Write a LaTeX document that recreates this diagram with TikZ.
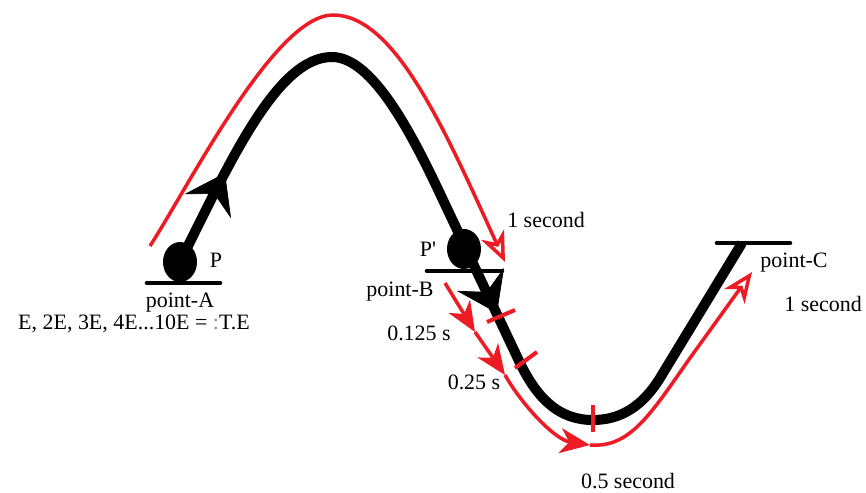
\documentclass[tikz,border=0pt]{standalone}
\usepackage{fontspec}
\setmainfont{Liberation Serif}
\usetikzlibrary{arrows.meta, shapes.geometric}
\definecolor{pathred}{RGB}{237,28,36}

\begin{document}
\begin{tikzpicture}[
  x=0.02cm, y=-0.02cm,
  font=\fontsize{12.5}{14}\selectfont,
  track/.style={line width=5.7pt, black},
  motion/.style={line width=2pt, pathred},
  ground/.style={line width=2.6pt, black, line cap=round},
  mass/.style={ellipse, fill=black, inner sep=0pt, minimum width=0.68cm, minimum height=0.8cm},
  lab/.style={anchor=base, inner sep=0pt},
  tickmark/.style={line width=2.3pt, pathred},
  bighead/.style={-{Stealth[length=0.75cm, width=1.05cm, inset=0.28cm]}, line width=0.4pt, black},
  redhead/.style={-{Stealth[length=0.6cm, width=0.5cm, inset=0.18cm]}},
  redopen/.style={-{Stealth[open, length=0.6cm, width=0.5cm, inset=0.18cm]}},
]
\useasboundingbox (0,0) rectangle (866,493);

% masses and where they rest
\node[mass] (ballA) at (180,262) {};
\node[mass] (ballB) at (464,249) {};
\coordinate (topC) at (742,243);
\draw[ground] (147,283) -- (220,283);
\draw[ground] (427,271) -- (502,271);
\draw[ground] (717,243) -- (790,243);

% red path over the hill
\draw[motion, redopen] (150,246) .. controls (190,184) and (275,15) .. (333,15)
  .. controls (395,15) and (445,130) .. (505,262);

% the track
\draw[track] (ballA.center) .. controls (230,162) and (277,57) .. (332,57)
  .. controls (373,57) and (413,136) .. (443,200) -- (520,363)
  .. controls (538,400) and (560,420) .. (593,420)
  .. controls (620,420) and (642,407) .. (660,378) -- (topC);
\draw[bighead] (197,227) -- (225,173);
\draw[bighead] (470,258) -- (497,313);

% time marks
\draw[tickmark] (487,322) -- (515,310);
\draw[tickmark] (515,368) -- (537,352);
\draw[tickmark] (593,405) -- (593,432);

% red path through the valley
\coordinate (r0) at (445,283);
\coordinate (r1) at (475,332);
\coordinate (r2) at (505,375);
\coordinate (r3) at (590,445);
\coordinate (r4) at (752,272);
\draw[motion, redhead] (r0) -- (r1);
\draw[motion, redhead] (r1) -- (r2);
\draw[motion, redhead] (r2) .. controls (522,405) and (555,440) .. (r3);
\draw[motion, redopen] (r3) .. controls (630,448) and (650,415) .. (690,358) -- (r4);

% labels
\node[lab] (labP) at (216,268) {P};
\node[lab] (labA) at (180,308) {point-A};
\node[lab] (labE) at (134,330) {E, 2E, 3E, 4E...10E = \textcolor{black!45}{:}T.E};
\node[lab] (labPp) at (428,257) {P\textquotesingle};
\node[lab] (labB) at (400,297) {point-B};
\node[lab] (labT1) at (546,228) {1 second};
\node[lab] (labT2) at (419,340) {0.125 s};
\node[lab] (labT3) at (474,390) {0.25 s};
\node[lab] (labT4) at (628,488) {0.5 second};
\node[lab] (labC) at (794,268) {point-C};
\node[lab] (labT5) at (823,312) {1 second};
\end{tikzpicture}
\end{document}
